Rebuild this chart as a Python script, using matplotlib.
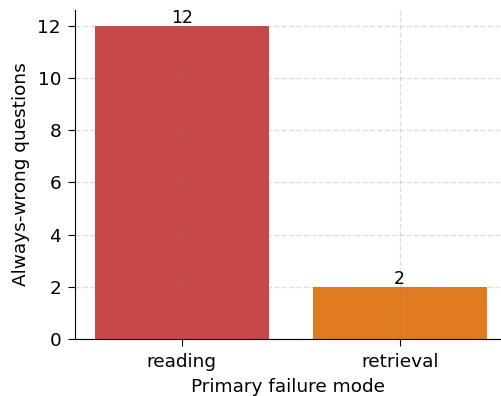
import matplotlib
matplotlib.use("Agg")
import matplotlib.pyplot as plt

categories = ["reading", "retrieval"]
counts = [12, 2]
colors = ["#c84848", "#e07b21"]

fig = plt.figure(figsize=(5.01, 3.96), dpi=100)
ax = fig.add_axes([75/501, 1-339/396, 426/501, (339-10)/396])
x = range(len(categories))
bars = ax.bar(x, counts, width=0.8, color=colors, zorder=1)
ax.set_xticks(list(x))
ax.set_xticklabels(categories, fontsize=13.3)
ax.tick_params(axis="y", labelsize=13.3)
ax.tick_params(axis="both", length=5, pad=5)
ax.set_xlim(-0.49, 1.465)
ax.set_ylim(0, 12.6)
ax.set_xlabel("Primary failure mode", fontsize=13.3, labelpad=5)
ax.set_ylabel("Always-wrong questions", fontsize=13.3, labelpad=5.5)
ax.grid(True, linestyle="--", color="gray", alpha=0.25, linewidth=1, zorder=2)
ax.set_axisbelow(False)
for s in ["top", "right"]:
    ax.spines[s].set_visible(False)
for b, v in zip(bars, counts):
    ax.text(b.get_x() + b.get_width()/2, v - 0.05, str(v), ha="center", va="bottom", fontsize=12.5, zorder=3)
fig.savefig("out.png", dpi=100)
